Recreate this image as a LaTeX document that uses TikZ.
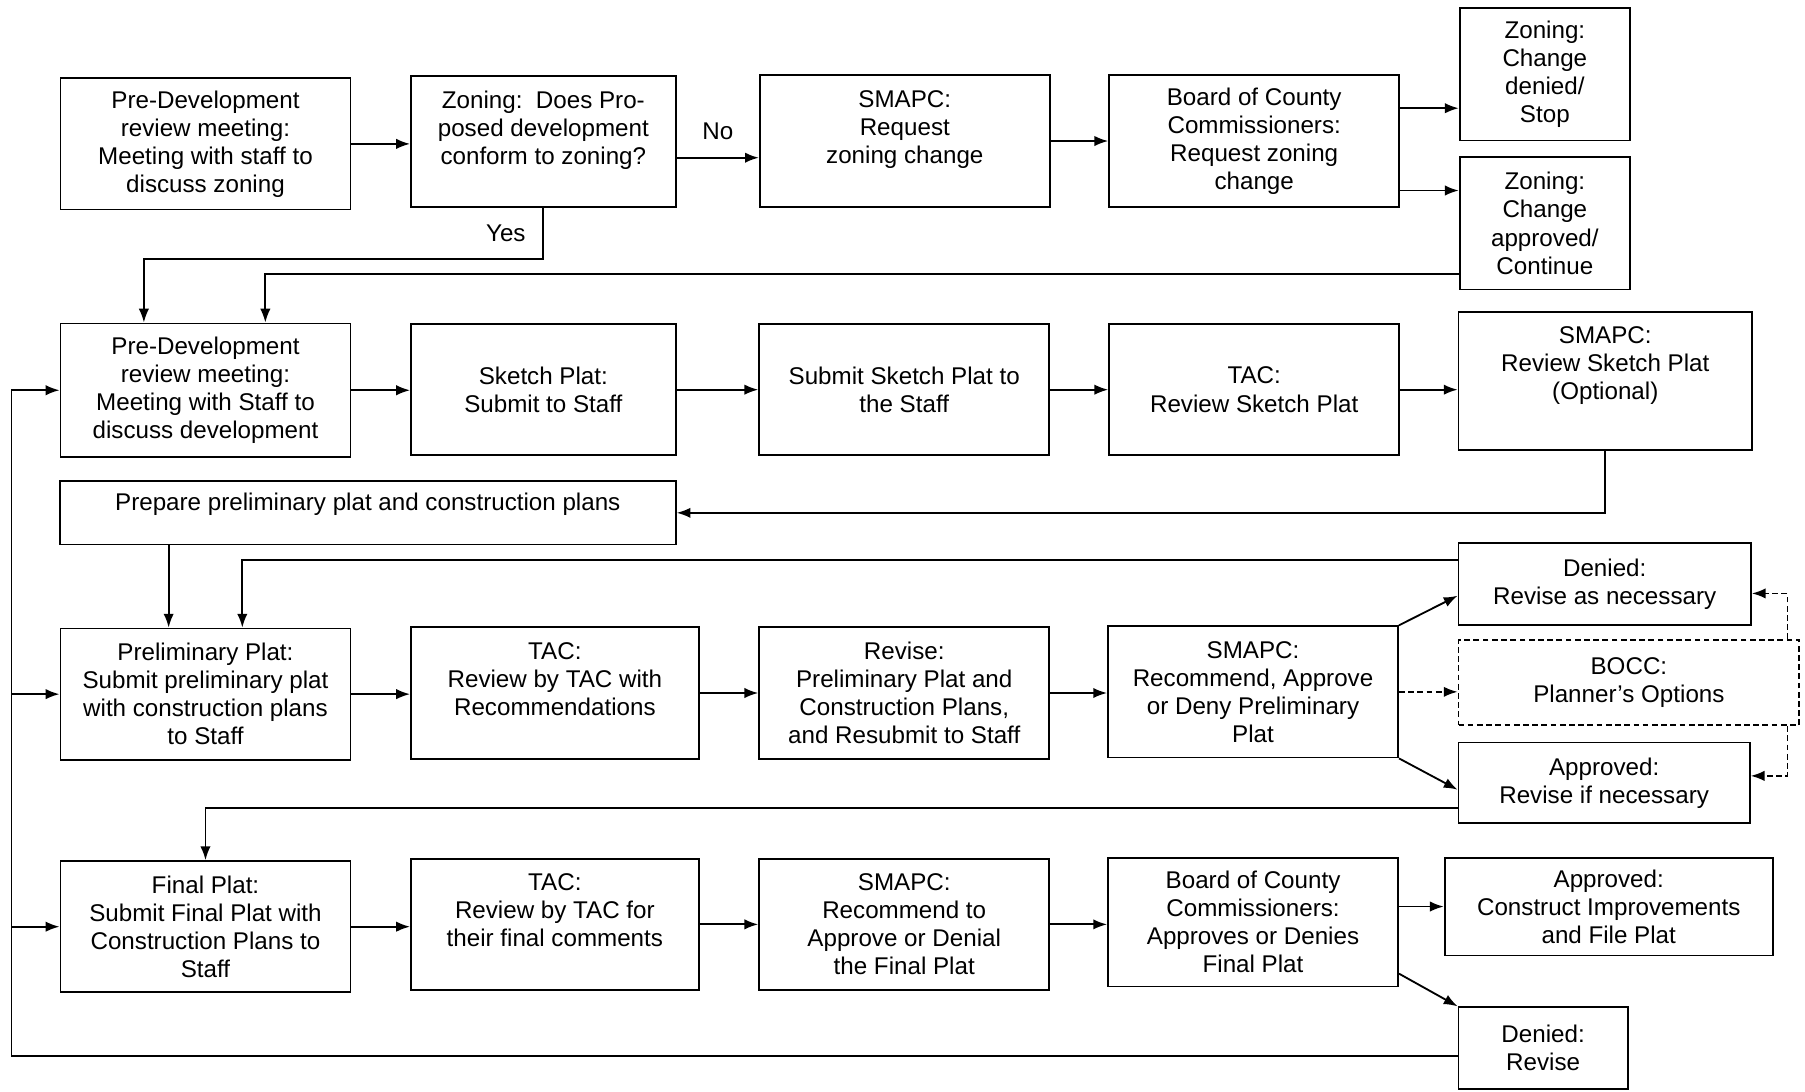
\documentclass[tikz,border=0pt]{standalone}
\usepackage{fontspec}
\setmainfont{Liberation Sans}
\usetikzlibrary{arrows.meta}

\tikzset{
  stage/.style={draw, thick, align=center, inner sep=2pt, minimum width=126pt,
    minimum height=57pt, font=\fontsize{10.5}{12.2}\selectfont},
  narrow/.style={stage, minimum width=115pt},
  tall/.style={stage, minimum width=74pt, minimum height=57.5pt},
  flat/.style={stage, minimum width=126.5pt, minimum height=35.5pt},
  option/.style={flat, dash pattern=on 2.5pt off 1.5pt},
  tag/.style={font=\fontsize{10.5}{12.2}\selectfont},
  flow/.style={thick, -{Latex[length=6pt,width=4.5pt]}},
}

\begin{document}
\begin{tikzpicture}[x=0.5pt, y=-0.5pt]
    \useasboundingbox (0,0) rectangle (1568,948);
    % zoning
    \node[stage] (meet1) at (178.5,125) {Pre-Development\\review meeting:\\Meeting with staff to\\discuss zoning};
    \node[narrow] (zoning) at (472,123) {Zoning:\ \ Does Pro-\\posed development\\conform to zoning?\\\mbox{}};
    \node[stage] (smapc1) at (786,122.5) {SMAPC:\\Request\\zoning change\\\mbox{}};
    \node[stage] (bocc1) at (1089.5,122.5) {Board of County\\Commissioners:\\Request zoning\\change};
    \node[tall] (stop) at (1342,64.5) {Zoning:\\Change\\denied/\\Stop};
    \node[tall] (go) at (1342,194) {Zoning:\\Change\\approved/\\Continue};
    % sketch plat
    \node[stage, minimum height=58pt] (meet2) at (178.5,339) {Pre-Development\\review meeting:\\Meeting with Staff to\\discuss development};
    \node[narrow] (sketch) at (472,338.5) {Sketch Plat:\\Submit to Staff};
    \node[stage] (submit) at (785.5,338.5) {Submit Sketch Plat to\\the Staff};
    \node[stage] (tac1) at (1089.5,338.5) {TAC:\\Review Sketch Plat};
    \node[stage, minimum width=127.5pt, minimum height=60pt] (smapc2) at (1394.5,331) {SMAPC:\\Review Sketch Plat\\(Optional)\\\strut};
    \node[stage, minimum width=267.5pt, minimum height=27.5pt, text depth=10pt] (prep) at (319.5,445.5) {Prepare preliminary plat and construction plans};
    % preliminary plat
    \node[stage] (prelim) at (178.5,603) {Preliminary Plat:\\Submit preliminary plat\\with construction plans\\to Staff};
    \node[stage, minimum width=125pt] (tac2) at (482,602) {TAC:\\Review by TAC with\\Recommendations\\\mbox{}};
    \node[stage] (revise) at (785.5,602) {Revise:\\Preliminary Plat and\\Construction Plans,\\and Resubmit to Staff};
    \node[stage] (smapc3) at (1088.5,601) {SMAPC:\\Recommend, Approve\\or Deny Preliminary\\Plat};
    \node[flat, minimum width=127pt] (denied1) at (1394,507.5) {Denied:\\Revise as necessary};
    \node[option, minimum width=148pt, minimum height=37pt] (bocc2) at (1415,593) {BOCC:\\Planner's Options};
    \node[flat, minimum height=35pt] (approved1) at (1393.5,680) {Approved:\\Revise if necessary};
    % final plat
    \node[stage] (final) at (178.5,805) {Final Plat:\\Submit Final Plat with\\Construction Plans to\\Staff};
    \node[stage, minimum width=125pt] (tac3) at (482,803) {TAC:\\Review by TAC for\\their final comments\\\mbox{}};
    \node[stage] (smapc4) at (785.5,803) {SMAPC:\\Recommend to\\Approve or Denial\\the Final Plat};
    \node[stage, minimum height=56pt] (bocc3) at (1088.5,801) {Board of County\\Commissioners:\\Approves or Denies\\Final Plat};
    \node[stage, minimum width=142.5pt, minimum height=42.5pt] (approved2) at (1397.5,787.5) {Approved:\\Construct Improvements\\and File Plat};
    \node[flat, minimum width=73.5pt] (denied2) at (1340.5,910.5) {Denied:\\Revise};
    \coordinate (rail) at (10,0);

    \draw[flow] (meet1.east) -- (meet1.east -| zoning.west);
    \draw[flow] ([yshift=-7pt]zoning.east) -- ([yshift=-7pt]zoning.east -| smapc1.west) node[tag, midway, above=4pt] {No};
    \draw[flow] (smapc1) -- (bocc1);
    \draw[flow] ([yshift=14.25pt]bocc1.east) -- ([yshift=14.25pt]bocc1.east -| stop.west);
    \draw[flow] ([yshift=-21.5pt]bocc1.east) -- ([yshift=-21.5pt]bocc1.east -| go.west);
    \draw[flow] (zoning.south) -- ++(0,-22pt) node[tag, midway, left=4pt] {Yes} -| ([xshift=-26.75pt]meet2.north);
    \draw[flow] ([yshift=-22pt]go.west) -| ([xshift=26pt]meet2.north);

    \draw[flow] (meet2.east) -- (meet2.east -| sketch.west);
    \draw[flow] (sketch.east) -- (sketch.east -| submit.west);
    \draw[flow] (submit.east) -- (submit.east -| tac1.west);
    \draw[flow] (tac1.east) -- (tac1.east -| smapc2.west);
    \draw[flow] (smapc2.south) |- (prep.east);
    \draw[flow] ([xshift=-16pt]prelim.north |- prep.south) -- ([xshift=-16pt]prelim.north);
    \draw[flow] ([yshift=10.6pt]denied1.west) -| ([xshift=16pt]prelim.north);

    \draw[flow] (prelim.east) -- (prelim.east -| tac2.west);
    \draw[flow] (tac2.east) -- (tac2.east -| revise.west);
    \draw[flow] (revise.east) -- (revise.east -| smapc3.west);
    \draw[flow] (smapc3.north east) -- ([yshift=-5pt]denied1.west);
    \draw[flow] (smapc3.south east) -- ([yshift=-3pt]approved1.west);
    \draw[flow, dash pattern=on 2.5pt off 1.5pt] (smapc3.east) -- (smapc3.east -| bocc2.west);
    \draw[flow, dash pattern=on 2.5pt off 1.5pt] ([xshift=-5.5pt]bocc2.north east) |- ([yshift=-4pt]denied1.east);
    \draw[flow, dash pattern=on 2.5pt off 1.5pt] ([xshift=-5.5pt]bocc2.south east) |- ([yshift=3pt]approved1.east);
    \draw[flow] ([yshift=-11pt]approved1.west) -| (final.north);

    \draw[flow] (final.east) -- (final.east -| tac3.west);
    \draw[flow] (tac3.east) -- (tac3.east -| smapc4.west);
    \draw[flow] (smapc4.east) -- (smapc4.east -| bocc3.west);
    \draw[flow] (approved2.west -| bocc3.east) -- (approved2.west);
    \draw[flow] ([yshift=6pt]bocc3.south east) -- (denied2.north west);
    \draw[flow] ([yshift=-3.5pt]denied2.west) -| (rail |- meet2.west) -- (meet2.west);
    \draw[flow] (rail |- prelim.west) -- (prelim.west);
    \draw[flow] (rail |- final.west) -- (final.west);
\end{tikzpicture}
\end{document}
